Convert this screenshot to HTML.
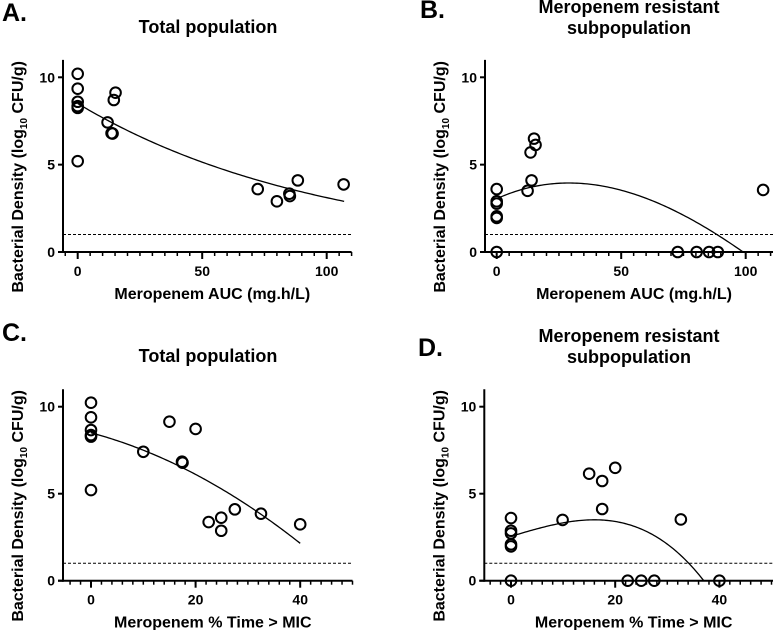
<!DOCTYPE html>
<html><head><meta charset="utf-8"><style>
body{margin:0;background:#fff;}
svg{display:block;font-family:"Liberation Sans",Arial,sans-serif;font-weight:bold;}
</style></head><body>
<svg id="fig" width="773" height="630" viewBox="0 0 773 630" xmlns="http://www.w3.org/2000/svg"></svg>
<script>
// Panel A data
const aucX = [0,0,0,0,0,0,12,13.6,14,14.5,15.2,72.3,80,85,85.2,88.4,106.8];
const aTotalY = [10.2,9.35,8.6,8.35,8.25,5.2,7.42,6.8,6.78,8.7,9.12,3.6,2.9,3.34,3.2,4.1,3.87];
// Panel B data
const bAucX = [0,0,0,0,0,0,12.4,13.6,14,15,15.6,72.7,80.3,85.3,88.8,107];
const bResY = [3.6,2.9,2.77,2.04,1.95,0,3.5,5.7,4.1,6.49,6.13,0,0,0,0,3.55];
// Panel C data
const timeX = [0,0,0,0,0,0,10,15,17.4,17.5,20,22.5,24.9,24.9,27.5,32.5,40];
const cTotalY = [10.23,9.39,8.66,8.37,8.28,5.21,7.41,9.14,6.84,6.78,8.72,3.37,3.62,2.87,4.1,3.85,3.24];
// Panel D data
const dTimeX = [0,0,0,0,0,0,9.9,15,17.5,17.5,20,22.4,25,27.5,32.6,40];
const dResY = [3.6,2.87,2.72,2.09,1.97,0,3.49,6.15,5.73,4.12,6.49,0,0,0,3.52,0];
// Fit coefficients (curve models)
const fitA = [8.5, 0.01005];
const fitB = [3.05, 0.0643, -0.001225, 0.000002665];
const fitC = [8.5, -0.0804, -0.00196, 0];
const fitD = [2.55, 0.0895, -0.0000566, -0.0001142];
const yTicks = [0,5,10];
const aucTicks = [0,50,100];
const timeTicks = [0,20,40];
const lloq = 1;

const NS="http://www.w3.org/2000/svg";
const svg=document.getElementById('fig');
function mk(tag,attrs,parent){const e=document.createElementNS(NS,tag);for(const k in attrs)e.setAttribute(k,attrs[k]);(parent||svg).appendChild(e);return e;}

function panel(o){
  const g=mk('g',{});
  
  
  const sx=v=>o.x0px+(v-o.xmin)*o.xs;
  const sy=v=>o.y0px-v*o.ys;
  const axL=o.axisX, axR=sx(o.xmax), axB=sy(0);
  const L=mk('text',{x:o.letter[1],y:o.letter[2],'font-size':25},g);L.textContent=o.letter[0];
  
  o.title.forEach((t,i)=>{const T=mk('text',{x:o.tx,y:o.ty+i*21,'font-size':18,'text-anchor':'middle'},g);T.textContent=t;
    });
  const ya=mk('line',{x1:axL,x2:axL,y1:sy(11),y2:axB+1,stroke:'#000','stroke-width':2},g);
  
  yTicks.forEach(v=>{mk('line',{x1:axL-5,x2:axL,y1:sy(v),y2:sy(v),stroke:'#000','stroke-width':2},g);
    const t=mk('text',{x:axL-8,y:sy(v)+5,'font-size':14,'text-anchor':'end'},g);t.textContent=v;
    });
  const xa=mk('line',{x1:axL-5,x2:axR,y1:axB,y2:axB,stroke:'#000','stroke-width':2},g);
  
  for(let v=o.minorStart;v<=o.xmax+0.001;v+=o.minor){const X=sx(v);if(X<axL+2)continue;
    mk('line',{x1:X,x2:X,y1:axB,y2:axB+4,stroke:'#000','stroke-width':1.5},g);}
  o.ticks.forEach(v=>{mk('line',{x1:sx(v),x2:sx(v),y1:axB,y2:axB+7,stroke:'#000','stroke-width':2},g);
    const t=mk('text',{x:sx(v),y:axB+24,'font-size':14,'text-anchor':'middle'},g);t.textContent=v;
    });
  const xt=mk('text',{x:(axL+Math.min(axR,773))/2+5,y:axB+47,'font-size':16,'text-anchor':'middle'},g);xt.textContent=o.xlabel;
  
  const yt=mk('text',{transform:`translate(${axL-40},${sy(4.3)}) rotate(-90)`,'font-size':16,'text-anchor':'middle'},g);
  yt.innerHTML='Bacterial Density (log<tspan font-size="10" dy="4">10</tspan><tspan dy="-4"> CFU/g)</tspan>';
  
  const dl=mk('line',{x1:axL,x2:axR,y1:sy(lloq),y2:sy(lloq),stroke:'#000','stroke-width':1,'stroke-dasharray':'3,2'},g);
  
  let d='';const n=120;
  for(let i=0;i<=n;i++){const x=o.cx0+(o.cx1-o.cx0)*i/n;const y=o.f(x);d+=(i?'L':'M')+sx(x).toFixed(2)+','+sy(y).toFixed(2);}
  const c=mk('path',{d:d,fill:'none',stroke:'#000','stroke-width':1.3},g);
  
  o.xs_.forEach((xv,i)=>{const p=mk('circle',{cx:sx(xv),cy:sy(o.ys_[i]),r:5.3,fill:'none',stroke:'#000','stroke-width':2},g);
    });
}
const cubic=c=>x=>c[0]+c[1]*x+c[2]*x*x+c[3]*x*x*x;
panel({name:'panel-a',letter:['A.',2,21],title:['Total population'],tx:208,ty:33,
  axisX:63,x0px:77.7,xmin:0,xs:2.49,y0px:252,ys:17.47,xmax:110,minor:5,minorStart:-5,ticks:aucTicks,
  xlabel:'Meropenem AUC (mg.h/L)',f:x=>fitA[0]*Math.exp(-fitA[1]*x),cx0:0,cx1:107,xs_:aucX,ys_:aTotalY});
panel({name:'panel-b',letter:['B.',420,18],title:['Meropenem resistant','subpopulation'],tx:629,ty:13,
  axisX:485,x0px:496.7,xmin:0,xs:2.49,y0px:252,ys:17.47,xmax:112,minor:5,minorStart:-5,ticks:aucTicks,
  xlabel:'Meropenem AUC (mg.h/L)',f:cubic(fitB),cx0:0,cx1:99,xs_:bAucX,ys_:bResY});
panel({name:'panel-c',letter:['C.',2,341],title:['Total population'],tx:208,ty:362,
  axisX:63,x0px:91,xmin:0,xs:5.23,y0px:580.7,ys:17.4,xmax:50,minor:2,minorStart:-4,ticks:timeTicks,
  xlabel:'Meropenem % Time > MIC',f:cubic(fitC),cx0:0,cx1:40,xs_:timeX,ys_:cTotalY});
panel({name:'panel-d',letter:['D.',418,356],title:['Meropenem resistant','subpopulation'],tx:629,ty:342,
  axisX:484.3,x0px:511,xmin:0,xs:5.21,y0px:580.7,ys:17.4,xmax:52,minor:2,minorStart:-4,ticks:timeTicks,
  xlabel:'Meropenem % Time > MIC',f:cubic(fitD),cx0:0,cx1:37,xs_:dTimeX,ys_:dResY});
</script>
</body></html>
